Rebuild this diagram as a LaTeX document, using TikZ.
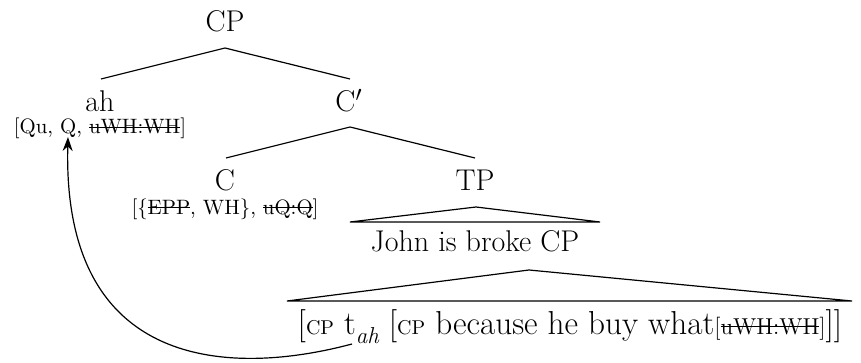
\documentclass[tikz,border=0pt]{standalone}
\usetikzlibrary{arrows.meta}
\newcommand\strk[1]{\setbox0\hbox{#1}\rlap{\rule[0.3em]{\wd0}{0.5pt}}\box0}
\newcommand\capsm[1]{{\fontsize{10}{12}\selectfont #1}}
\newcommand\subit[1]{\raisebox{-0.28em}{\fontsize{11.5}{13}\selectfont\itshape #1}}
\begin{document}
\begin{tikzpicture}[x=0.5pt,y=-0.5pt,
  lab/.style={inner sep=0pt,anchor=base,font=\fontsize{15}{18}\selectfont},
  lowlab/.style={inner sep=0pt,anchor=base,font=\fontsize{16.6}{19}\selectfont},
  feat/.style={inner sep=0pt,anchor=base,font=\fontsize{10.4}{12}\selectfont},
  br/.style={line width=0.6pt},
  mv/.style={line width=0.6pt,-{Stealth[length=7pt,width=5pt]}}]
\useasboundingbox (0,0) rectangle (861,363);
% labels
\node[lab] (CP) at (225,32) {CP};
\node[lab] (ah) at (100,112) {ah};
\node[feat] (ahf) at (100,134) {[Qu, Q, \strk{uWH:WH}]};
\node[lab] (Cb) at (349,112) {C$'$};
\node[lab] (C) at (225,191) {C};
\node[feat] (Cf) at (225,214) {[\{\strk{EPP}, WH\}, \strk{uQ:Q}]};
\node[lab] (TP) at (475,191) {TP};
\node[lab] (john) at (475,251) {John is broke CP};
\node[lowlab] (low) at (570,334) {[\capsm{CP} t\subit{ah} [\capsm{CP} because he buy what{\fontsize{11.5}{13}\selectfont[\strk{uWH:WH}]}]]};
% branch points
\coordinate (cpB) at (225,48);
\coordinate (ahT) at (101,79);
\coordinate (cbT) at (350,79);
\coordinate (cbB) at (350,127);
\coordinate (cT) at (226,158);
\coordinate (tpT) at (475,158);
\coordinate (tpB) at (476,207);
\coordinate (tpL) at (350,222);
\coordinate (tpR) at (600,222);
\coordinate (jB) at (529,270);
\coordinate (jL) at (287,301);
\coordinate (jR) at (852,301);
\coordinate (tstart) at (352,344);
\coordinate (qend) at (68,137);
% tree
\draw[br] (ahT) -- (cpB) -- (cbT);
\draw[br] (cT) -- (cbB) -- (tpT);
\draw[br] (tpL) -- (tpB) -- (tpR) -- cycle;
\draw[br] (jL) -- (jB) -- (jR) -- cycle;
% movement
\draw[mv] (tstart) .. controls (232,376) and (62,372) .. (qend);
\end{tikzpicture}
\end{document}
